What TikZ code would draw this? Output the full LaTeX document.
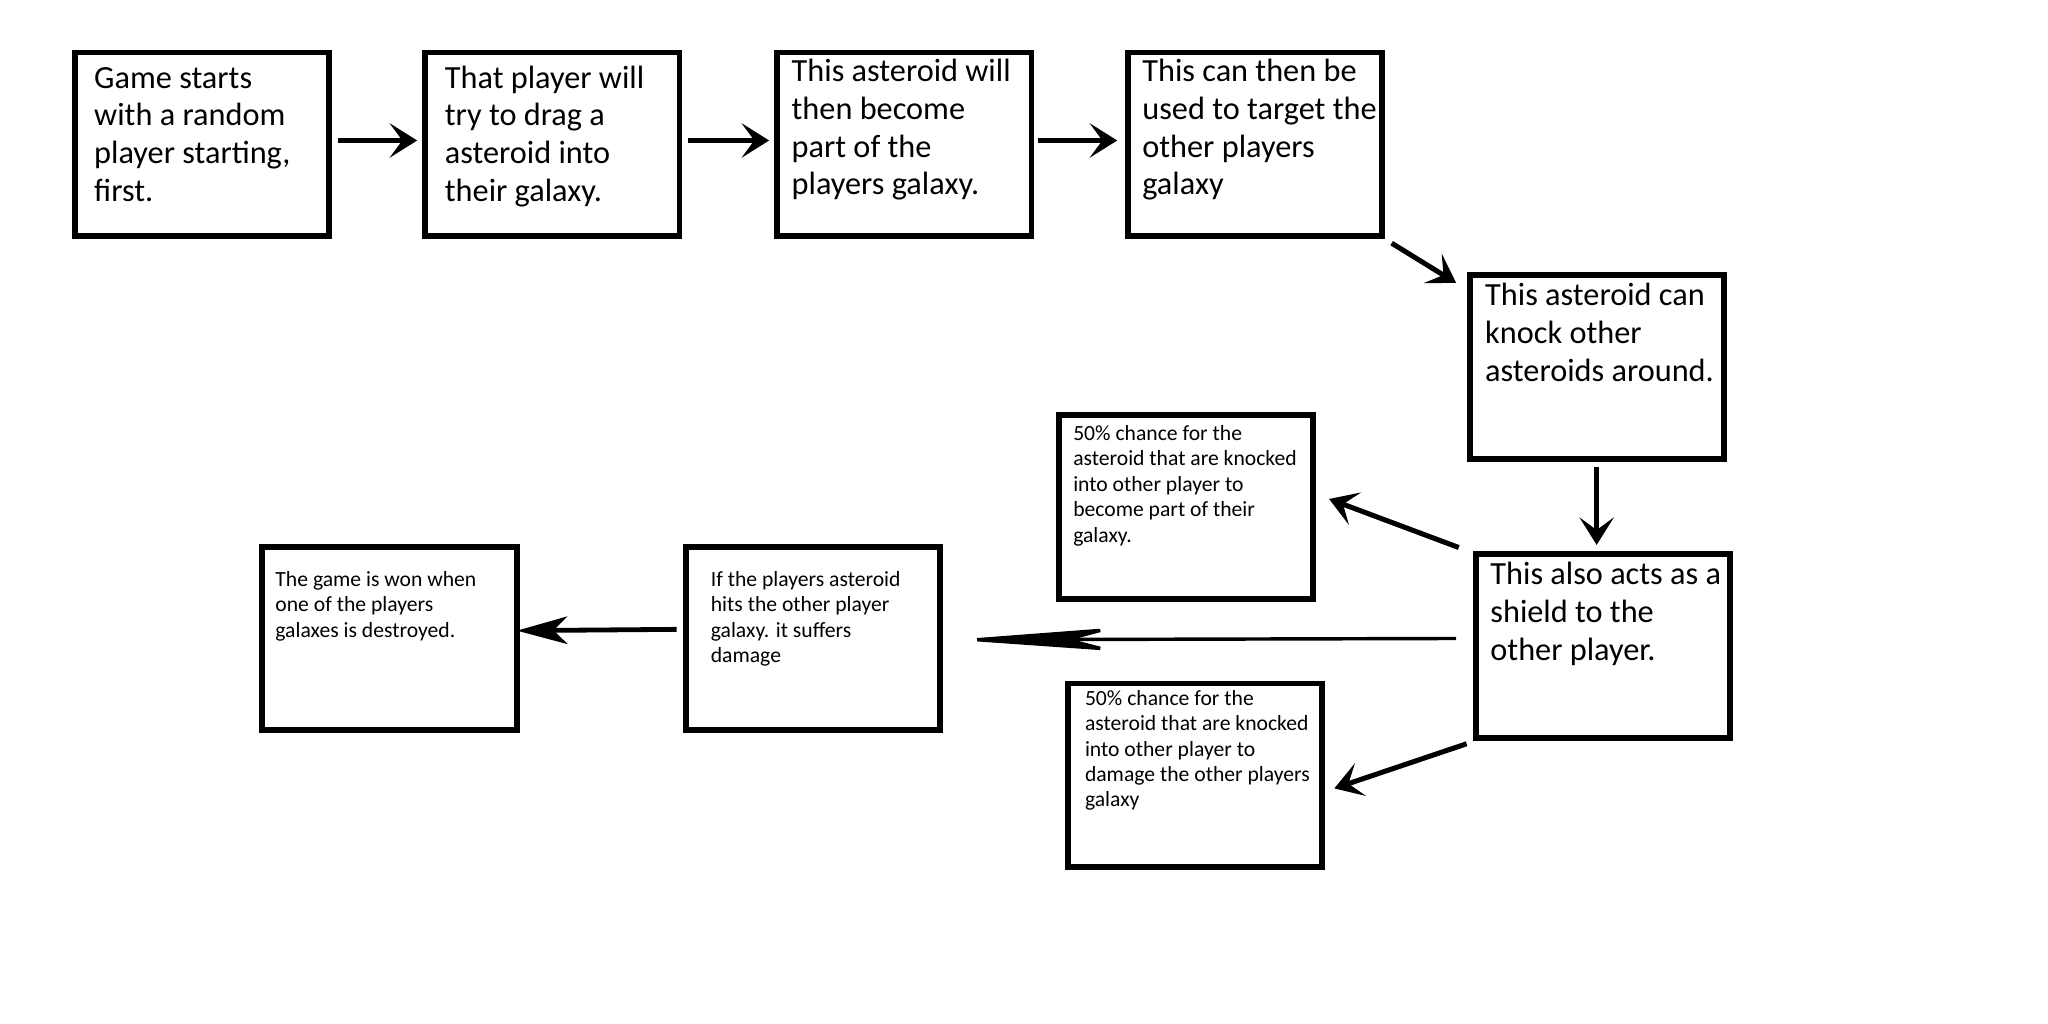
\documentclass[tikz,border=0pt]{standalone}
\usepackage{fontspec}
\setmainfont{Carlito}
\usetikzlibrary{arrows.meta}

\newcommand{\bigtext}{\fontsize{14.1pt}{16.5pt}\selectfont}
\newcommand{\smalltext}{\fontsize{9.45pt}{11.1pt}\selectfont}
\newcommand{\steptext}[3]{\parbox[t][2.82cm][t]{3.9cm}{\vspace*{#2}\hspace*{#1}\begin{tabular}[t]{@{}l@{}}#3\end{tabular}}}

\begin{document}
\begin{tikzpicture}[x=0.02cm, y=-0.02cm,
  stepbox/.style={draw, line width=2.6pt, anchor=north west, inner sep=0pt, font=\bigtext},
  notebox/.style={stepbox, font=\smalltext},
  arr/.style={line width=2.2pt, -{Stealth[length=12pt, width=15pt, inset=5.5pt]}},
  longarr/.style={line width=1.5pt, -{Stealth[length=72pt, width=10.5pt, inset=20pt]}},
  backarr/.style={line width=2.1pt, -{Stealth[length=22pt, width=12pt, inset=6pt]}}]
\useasboundingbox (0, 0) rectangle (1571, 785.5);

\node[stepbox] (start) at (55, 38) {\steptext{0.30cm}{0.14cm}{Game starts\\ with a random\\ player starting,\\ first.}};
\node[stepbox] (drag) at (324, 38) {\steptext{0.30cm}{0.14cm}{That player will\\ try to drag a\\ asteroid into\\ their galaxy.}};
\node[stepbox] (part) at (594, 38) {\steptext{0.22cm}{0.04cm}{This asteroid will\\ then become\\ part of the\\ players galaxy.}};
\node[stepbox] (target) at (863, 38) {\steptext{0.22cm}{0.04cm}{This can then be\\ used to target the\\ other players\\ galaxy}};
\node[stepbox] (knock) at (1125, 209) {\steptext{0.24cm}{0.06cm}{This asteroid can\\ knock other\\ asteroids around.}};
\node[stepbox] (shield) at (1130, 423) {\steptext{0.22cm}{0.06cm}{This also acts as a\\ shield to the\\ other player.}};

\node[notebox] (become) at (810, 316) {\steptext{0.22cm}{0.12cm}{50\% chance for the\\ asteroid that are knocked\\ into other player to\\ become part of their\\ galaxy.}};
\node[notebox] (damage) at (817, 522) {\steptext{0.26cm}{0.06cm}{50\% chance for the\\ asteroid that are knocked\\ into other player to\\ damage the other players\\ galaxy}};
\node[notebox] (hits) at (524, 417) {\steptext{0.38cm}{0.34cm}{If the players asteroid\\ hits the other player\\ galaxy. it suffers\\ damage}};
\node[notebox] (won) at (199, 417) {\steptext{0.20cm}{0.34cm}{The game is won when\\ one of the players\\ galaxes is destroyed.}};

\draw[arr] ([shift={(5, -3)}]start.east) -- ([shift={(-4, -3)}]drag.west);
\draw[arr] ([shift={(4, -3)}]drag.east) -- ([shift={(-4, -3)}]part.west);
\draw[arr] ([shift={(3, -3)}]part.east) -- ([shift={(-6, -3)}]target.west);
\draw[arr] ([shift={(5, 3)}]target.south east) -- ([shift={(-8, 8)}]knock.north west);
\draw[arr] ([shift={(0, 4)}]knock.south) -- ([shift={(0, -5)}]knock.south |- shield.north);
\draw[arr] ([shift={(-11, -3)}]shield.north west) -- ([shift={(10, -6)}]become.east);
\draw[longarr] ([shift={(-13, -6)}]shield.west) -- ([shift={(8, 1)}]hits.east);
\draw[arr] ([shift={(-5, 2)}]shield.south west) -- ([shift={(7, 10)}]damage.east);
\draw[backarr] ([shift={(-5, -7)}]hits.west) -- ([shift={(-2, -6)}]won.east);
\end{tikzpicture}
\end{document}
